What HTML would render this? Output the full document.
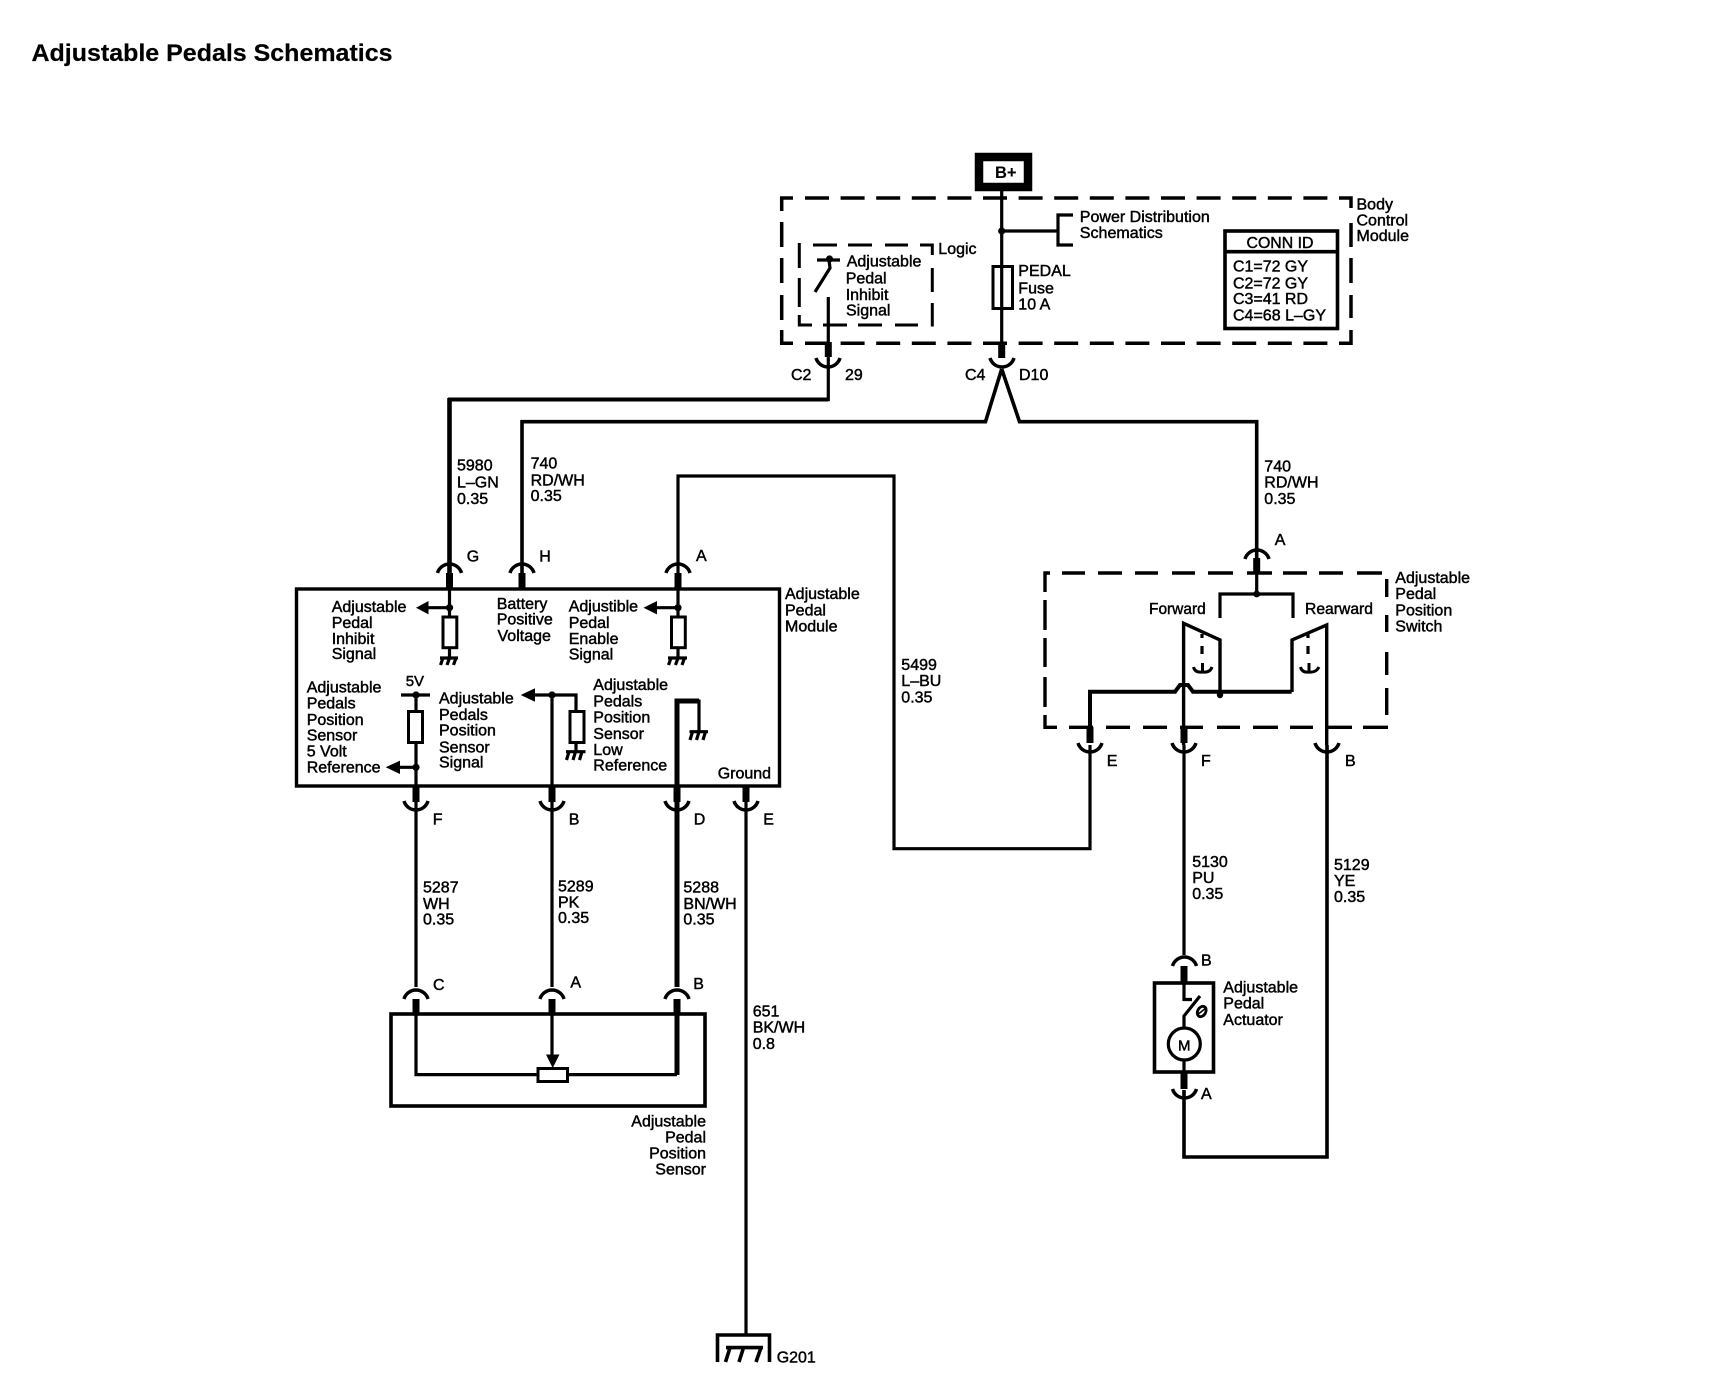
<!DOCTYPE html>
<html><head><meta charset="utf-8"><style>
html,body{margin:0;padding:0;background:#fff}
svg{display:block}
text{font-family:"Liberation Sans",sans-serif;font-size:16px;fill:#000;stroke:#000;stroke-width:.45}
.w{fill:none;stroke:#000;stroke-width:3.2}
.b{fill:none;stroke:#000;stroke-width:7}
.d{fill:none;stroke:#000;stroke-width:3.5;stroke-dasharray:24 11.6}
</style></head><body>
<svg width="1712" height="1392" viewBox="0 0 1712 1392" xmlns="http://www.w3.org/2000/svg">
<rect width="1712" height="1392" fill="#fff"/>
<text x="31.5" y="61" style="font-size:24px;font-weight:bold;stroke-width:.2" textLength="361" lengthAdjust="spacingAndGlyphs">Adjustable Pedals Schematics</text>

<!-- B+ -->
<rect x="979" y="157" width="49" height="30" fill="#fff" stroke="#000" stroke-width="8.5"/>
<text x="995" y="178" style="font-size:16.5px;font-weight:bold;stroke-width:.1">B+</text>

<!-- BCM dashed box -->
<path class="d" d="M805 198H1329"/>
<path class="d" d="M805 343.3H1329"/>
<path class="w" style="stroke-width:3.5" d="M781.7 211V198H793M1339 198H1351V208M1351 223V247M1351 258V283M1351 295V318M1351 330V343.3H1339"/>
<path class="w" style="stroke-width:3.5" d="M781.7 222V247M781.7 258V283M781.7 295V320M781.7 330V343.3H793"/>
<!-- Logic dashed box -->
<path class="w" style="stroke-width:3" d="M799.3 243V268M799.3 278V307M799.3 315V325H812M813 245H837M848 245H872M885 245H908M920 245H932.3V255M932.3 268V292M932.3 303V326.5M823 325H847M858 325H882M895 325H918"/>

<!-- main feed and fuse -->
<path class="w" d="M1001.7 190V358M1001.7 231H1058"/>
<path class="w" d="M1073 215H1058V245H1073"/>
<rect x="993" y="266.5" width="19.5" height="42" fill="none" stroke="#000" stroke-width="3"/>
<circle cx="1001.7" cy="231" r="3.6"/>
<path class="b" d="M1001.7 342V358"/>
<path class="w" style="stroke-width:3.5" d="M990 358A12.5 12.5 0 0 0 1014 358"/>
<path class="w" style="stroke-width:3.6" d="M1001.7 369L985.5 421.7H522V575M1001.7 369L1019.5 421.7H1256.7V563"/>

<!-- inhibit switch -->
<path class="w" d="M817 260H840M829 260L830 268L815 292"/>
<circle cx="829.5" cy="259" r="3.6"/>
<path class="w" d="M828.3 297V399.5H449.5"/>
<path class="w" style="stroke-width:4" d="M828.3 399.5H448"/>
<path class="w" style="stroke-width:4.6" d="M449.5 398V575"/>
<path class="b" d="M828.3 342V357"/>
<path class="w" style="stroke-width:3.5" d="M816 358A12.5 12.5 0 0 0 840 358"/>

<!-- A wire to E -->
<path class="w" d="M678 575V476H894V848.7H1090V745"/>

<!-- Module -->
<rect x="296.5" y="589" width="483" height="197" fill="none" stroke="#000" stroke-width="3.4"/>
<g class="arcs">
<path class="w" style="stroke-width:3.5" d="M437.5 573A12.5 12.5 0 0 1 461.5 573"/>
<path class="w" style="stroke-width:3.5" d="M510 573A12.5 12.5 0 0 1 534 573"/>
<path class="w" style="stroke-width:3.5" d="M666 573A12.5 12.5 0 0 1 690 573"/>
</g>
<path class="b" d="M449.5 573V590M522 573V590M678 573V590"/>
<!-- inhibit -->
<path class="w" d="M449.5 590V658M428 607.7H449.5"/>
<circle cx="449.5" cy="607.7" r="3.6"/>
<path d="M416 607.7L428.5 601V614.4Z"/>
<rect x="443" y="617" width="13.8" height="30.7" fill="#fff" stroke="#000" stroke-width="3"/>
<path class="w" d="M440 658H458M443 658L440.5 665M449.5 658L447 665M456 658L453.5 665"/>
<!-- enable -->
<path class="w" d="M678 590V658M656 607.7H678"/>
<circle cx="678" cy="607.7" r="3.6"/>
<path d="M643.5 607.7L657 601V614.4Z"/>
<rect x="671.5" y="617" width="13.8" height="30.7" fill="#fff" stroke="#000" stroke-width="3"/>
<path class="w" d="M668 658H687M671 658L668.5 665M678 658L675.5 665M684.5 658L682 665"/>
<!-- 5V -->
<path class="w" d="M401 695H430M416 695V786M399 767.3H416"/>
<circle cx="416" cy="695" r="3.6"/>
<circle cx="416" cy="767.3" r="3.6"/>
<path d="M385.7 767.3L400 760.6V774Z"/>
<rect x="408.5" y="711.5" width="14" height="31" fill="#fff" stroke="#000" stroke-width="3"/>
<!-- signal -->
<path class="w" d="M534 695H576V751.7M552 695V786"/>
<circle cx="552" cy="695" r="3.6"/>
<path d="M520.7 695L535 688.3V701.7Z"/>
<rect x="570" y="711.5" width="14" height="31" fill="#fff" stroke="#000" stroke-width="3"/>
<path class="w" d="M566 751.7H585.5M569 751.7L566.5 760M575.5 751.7L573 760M582 751.7L579.5 760"/>
<!-- low ref -->
<path class="w" style="stroke-width:5" d="M677 786V701H699"/>
<path class="w" d="M699 699.5V731.7M689.5 731.7H708M692.5 731.7L690 740M699 731.7L696.5 740M705.5 731.7L703 740"/>
<!-- bottom stubs and cups -->
<path class="b" d="M416 786V802M552 786V802M677 786V802M746 786V802"/>
<path class="w" style="stroke-width:3.5" d="M404 801A12.5 12.5 0 0 0 428 801M540 801A12.5 12.5 0 0 0 564 801M665 801A12.5 12.5 0 0 0 689 801M734 801A12.5 12.5 0 0 0 758 801"/>
<path class="w" d="M416 802V987M552 802V987M746 802V1334"/>
<path class="w" style="stroke-width:5" d="M677 802V987"/>

<!-- sensor -->
<path class="w" style="stroke-width:3.5" d="M404 999A12.5 12.5 0 0 1 428 999M540 999A12.5 12.5 0 0 1 564 999M665 999A12.5 12.5 0 0 1 689 999"/>
<path class="b" d="M416 999V1014M552 999V1014M677 999V1014"/>
<rect x="391" y="1014" width="314" height="92" fill="none" stroke="#000" stroke-width="3.6"/>
<path class="w" d="M416 1014V1074.6H677M552 1014V1056"/>
<path class="w" style="stroke-width:5" d="M677 1014V1075"/>
<path d="M546 1054.5H559.5L552.7 1068Z"/>
<rect x="538" y="1068.5" width="29.5" height="13" fill="#fff" stroke="#000" stroke-width="3"/>

<!-- ground G201 -->
<path class="w" style="stroke-width:3.6" d="M717.5 1362V1335H769.5V1362M726 1347.6H763M730 1347.6L725.5 1362M743.5 1347.6L739 1362M761 1347.6L756 1362"/>

<!-- switch module -->
<path class="b" d="M1256.7 558V574"/>
<path class="w" style="stroke-width:3.5" d="M1245 559A12.5 12.5 0 0 1 1269 559"/>
<path class="w" d="M1256.7 574V594M1220 618V594H1293V618"/>
<circle cx="1256.7" cy="594" r="3.4"/>
<path class="w" style="stroke-width:3.4" d="M1045 592V573H1050M1062 573H1085M1098 573H1122M1135 573H1158M1172 573H1195M1208 573H1233M1247 573H1272M1283 573H1307M1319 573H1343M1357 573H1382M1386.7 579V597M1386.7 615V632M1386.7 652V675M1386.7 688V715M1045 600V630M1045 638V667M1045 677V707M1045 715V727.3H1057M1069 727.3H1093M1106 727.3H1130M1143 727.3H1167M1180 727.3H1203M1217 727.3H1240M1253 727.3H1278M1290 727.3H1313M1327 727.3H1352M1363 727.3H1388"/>
<path class="w" style="stroke-width:4" d="M1090 743V691.7H1175L1180 685H1188L1193 691.7H1291.7"/>
<path class="w" style="stroke-width:3.4" d="M1292 692V640L1326.7 625V745"/>
<path class="w" style="stroke-width:3.4" d="M1183.6 745V623.3L1220 640V695"/>
<circle cx="1220" cy="695" r="3.2"/>
<path class="w" d="M1202 634V638M1202 646V654M1308 634V638M1308 646V654"/>
<path class="w" style="stroke-width:3" d="M1193.5 667Q1195 673 1202.5 672Q1210 673 1212 667M1202.5 663V672"/>
<path class="w" style="stroke-width:3" d="M1300.5 667Q1302 673 1309 672Q1316 673 1319 667M1309 663V672"/>
<path class="b" d="M1090 727V743M1184 727V743"/>
<path class="w" style="stroke-width:3.5" d="M1078 743A12.5 12.5 0 0 0 1102 743M1172 743A12.5 12.5 0 0 0 1196 743M1315 743A12.5 12.5 0 0 0 1339 743"/>
<path class="w" d="M1184 745V955"/>
<path class="w" style="stroke-width:3.6" d="M1327 745V1157H1184V1090"/>

<!-- actuator -->
<path class="w" style="stroke-width:3.5" d="M1172.5 966A12.5 12.5 0 0 1 1196.5 966"/>
<path class="b" d="M1184 966V983M1184 1073V1089"/>
<rect x="1154.5" y="983" width="59" height="89" fill="none" stroke="#000" stroke-width="3.6"/>
<path class="w" d="M1184 983V999.5H1192M1200 996L1184 1016V1028M1184 1060V1073"/>
<circle cx="1184.3" cy="1044" r="16" fill="#fff" stroke="#000" stroke-width="3.2"/>
<ellipse cx="1201.7" cy="1011.5" rx="4" ry="5.5" transform="rotate(30 1201.7 1011.5)" fill="none" stroke="#000" stroke-width="2.8"/>
<path d="M1197 1015L1206 1008" stroke="#000" stroke-width="1.6"/>
<path class="w" style="stroke-width:3.5" d="M1172.5 1089A12.5 12.5 0 0 0 1196.5 1089"/>

<!-- CONN ID -->
<rect x="1225" y="231" width="112.5" height="97.5" fill="#fff" stroke="#000" stroke-width="3.6"/>
<path class="w" style="stroke-width:3.6" d="M1225 251.7H1337.5"/>
<text x="1246.5" y="248" textLength="67" lengthAdjust="spacingAndGlyphs">CONN ID</text>
<text x="1233" y="271.6" textLength="75" lengthAdjust="spacingAndGlyphs">C1=72 GY</text>
<text x="1233" y="288.5" textLength="75" lengthAdjust="spacingAndGlyphs">C2=72 GY</text>
<text x="1233" y="304" textLength="75" lengthAdjust="spacingAndGlyphs">C3=41 RD</text>
<text x="1233" y="320.5" textLength="93" lengthAdjust="spacingAndGlyphs">C4=68 L–GY</text>

<!-- labels -->
<text x="1356.5" y="209.5">Body</text><text x="1356.5" y="225.5">Control</text><text x="1356.5" y="241">Module</text>
<text x="1079.8" y="222" textLength="130" lengthAdjust="spacingAndGlyphs">Power Distribution</text><text x="1079.8" y="238" textLength="83" lengthAdjust="spacingAndGlyphs">Schematics</text>
<text x="1018.3" y="276">PEDAL</text><text x="1018.3" y="293.3">Fuse</text><text x="1018.3" y="309.3">10 A</text>
<text x="938.3" y="254">Logic</text>
<text x="846.7" y="266.7">Adjustable</text><text x="845.7" y="283.3">Pedal</text><text x="845.7" y="300">Inhibit</text><text x="846" y="315.7">Signal</text>
<text x="791" y="380">C2</text><text x="845" y="380">29</text><text x="965" y="380">C4</text><text x="1019" y="380">D10</text>

<text x="457" y="470.5">5980</text><text x="457" y="487.3">L–GN</text><text x="457" y="503.8">0.35</text>
<text x="530.6" y="468.3">740</text><text x="530.6" y="485.6">RD/WH</text><text x="530.6" y="501">0.35</text>
<text x="1264.3" y="471.4">740</text><text x="1264.3" y="487.3">RD/WH</text><text x="1264.3" y="504.2">0.35</text>
<text x="901.3" y="670">5499</text><text x="901.3" y="686">L–BU</text><text x="901.3" y="702.7">0.35</text>

<text x="466.7" y="561.5">G</text><text x="539.3" y="561.5">H</text><text x="696" y="561">A</text><text x="1274.7" y="545">A</text>

<text x="785" y="599">Adjustable</text><text x="785" y="615.5">Pedal</text><text x="785" y="631.6">Module</text>
<text x="331.7" y="612">Adjustable</text><text x="331.7" y="628">Pedal</text><text x="331.7" y="644">Inhibit</text><text x="331.7" y="659">Signal</text>
<text x="496.7" y="609">Battery</text><text x="496.7" y="624.5">Positive</text><text x="497.5" y="641">Voltage</text>
<text x="568.7" y="611.7">Adjustible</text><text x="568.7" y="628">Pedal</text><text x="568.7" y="644">Enable</text><text x="568.7" y="659.5">Signal</text>
<text x="306.7" y="692.7">Adjustable</text><text x="306.7" y="708.3">Pedals</text><text x="306.7" y="725">Position</text><text x="306.7" y="740.7">Sensor</text><text x="306.7" y="756.7">5 Volt</text><text x="306.7" y="772.7">Reference</text>
<text x="405.7" y="686" style="font-size:15px">5V</text>
<text x="439" y="703.3">Adjustable</text><text x="439" y="720">Pedals</text><text x="439" y="735.7">Position</text><text x="439" y="752.3">Sensor</text><text x="439" y="767.7">Signal</text>
<text x="593.3" y="690">Adjustable</text><text x="593.3" y="706.7">Pedals</text><text x="593.3" y="722.7">Position</text><text x="593.3" y="739">Sensor</text><text x="593.3" y="755">Low</text><text x="593.3" y="770.7">Reference</text>
<text x="717.7" y="778.3">Ground</text>
<text x="432.7" y="824.3">F</text><text x="568.7" y="824.3">B</text><text x="693.7" y="824.3">D</text><text x="763.3" y="824.3">E</text>

<text x="423" y="892.6">5287</text><text x="423" y="909">WH</text><text x="423" y="924.6">0.35</text>
<text x="558" y="891.3">5289</text><text x="558" y="907.7">PK</text><text x="558" y="923">0.35</text>
<text x="683.4" y="892.6">5288</text><text x="683.4" y="909">BN/WH</text><text x="683.4" y="924.6">0.35</text>
<text x="433" y="989.8">C</text><text x="570.4" y="987.6">A</text><text x="693.2" y="989">B</text>
<text x="706" y="1126.5" text-anchor="end">Adjustable</text><text x="706" y="1142.5" text-anchor="end">Pedal</text><text x="706" y="1158.5" text-anchor="end">Position</text><text x="706" y="1174.5" text-anchor="end">Sensor</text>
<text x="752.7" y="1016.5">651</text><text x="752.7" y="1032.5">BK/WH</text><text x="752.7" y="1049">0.8</text>
<text x="776.7" y="1362.7">G201</text>

<text x="1395.3" y="582.8">Adjustable</text><text x="1395.3" y="599">Pedal</text><text x="1395.3" y="615.6">Position</text><text x="1395.3" y="631.6">Switch</text>
<text x="1149" y="614" textLength="56.7" lengthAdjust="spacingAndGlyphs">Forward</text><text x="1305" y="614" textLength="68" lengthAdjust="spacingAndGlyphs">Rearward</text>
<text x="1106.7" y="766">E</text><text x="1201" y="766">F</text><text x="1345" y="766">B</text>
<text x="1192.2" y="866.9">5130</text><text x="1192.2" y="882.9">PU</text><text x="1192.2" y="898.8">0.35</text>
<text x="1334" y="870">5129</text><text x="1334" y="886">YE</text><text x="1334" y="902">0.35</text>
<text x="1201" y="965.7">B</text><text x="1201" y="1099">A</text>
<text x="1223.3" y="992.3">Adjustable</text><text x="1223.3" y="1008.3">Pedal</text><text x="1223.3" y="1025">Actuator</text>
<text x="1184.3" y="1050.5" text-anchor="middle" style="font-size:15px">M</text>
</svg>
</body></html>
